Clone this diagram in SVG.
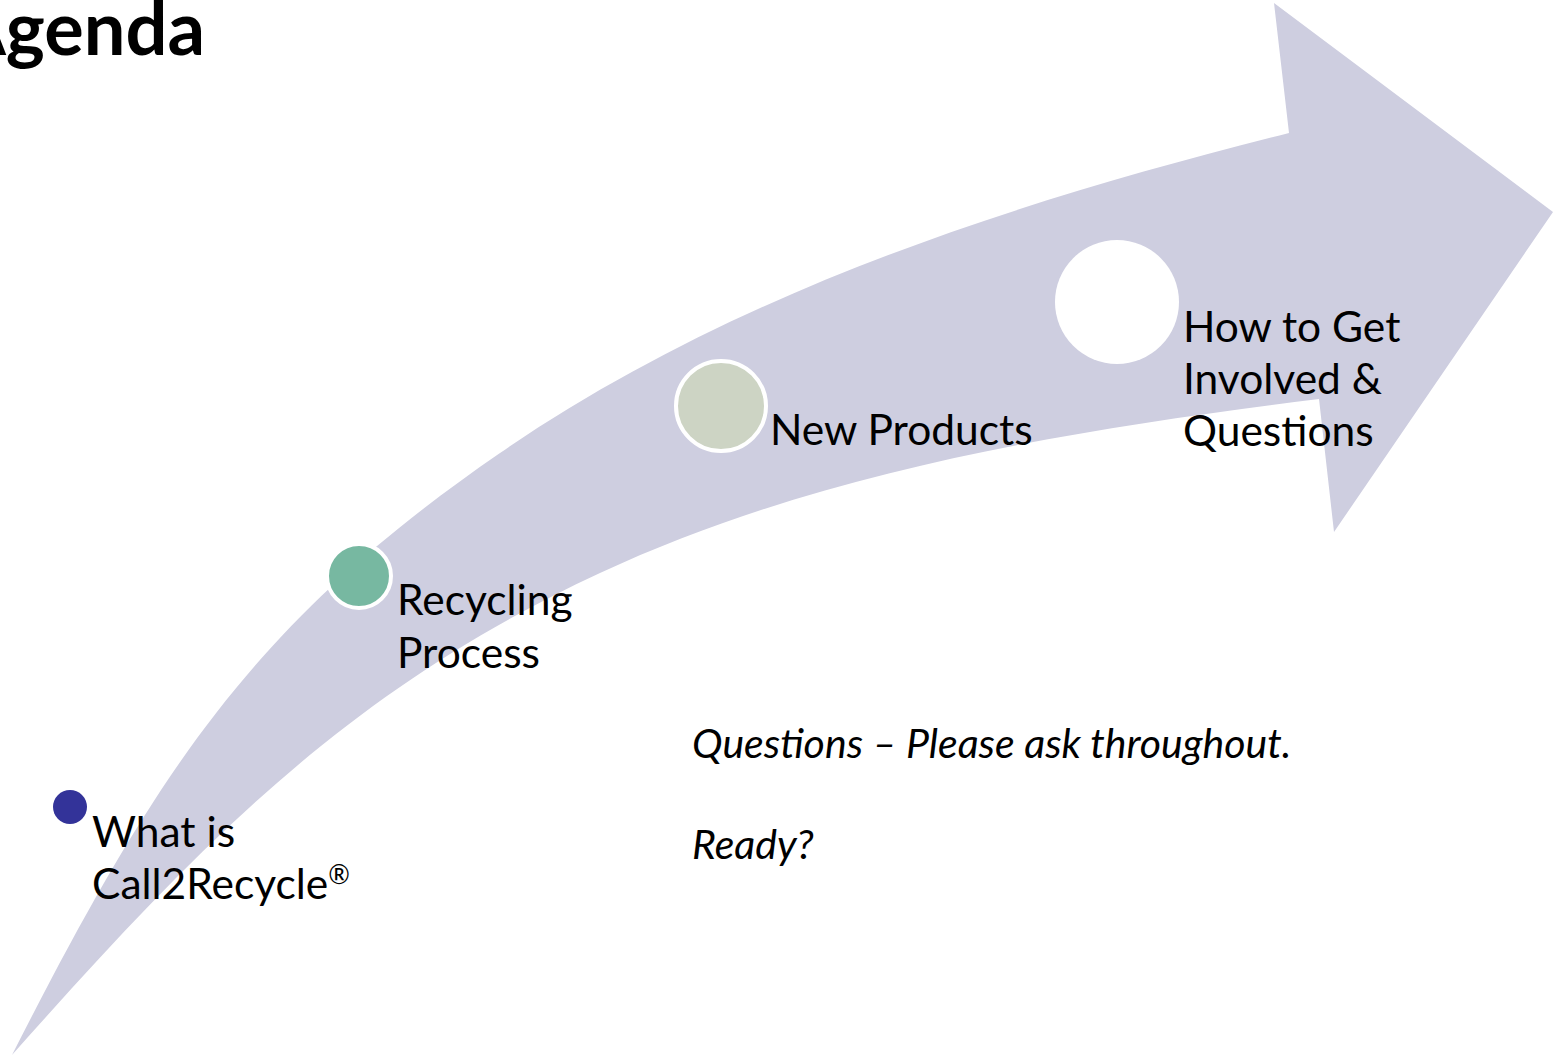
<svg xmlns="http://www.w3.org/2000/svg" width="1562" height="1058" viewBox="0 0 1562 1058">
<style>
.lbl{font-family:Lato,"Open Sans","Liberation Sans",sans-serif;font-size:42.5px;fill:#000}
.note{font-family:Lato,"Open Sans","Liberation Sans",sans-serif;font-size:41px;font-style:italic;fill:#000}
.title{font-family:Lato,"Open Sans","Liberation Sans",sans-serif;font-size:74px;font-weight:bold;fill:#000}
.ring{stroke:#fff;stroke-width:4}
</style>
<rect width="1562" height="1058" fill="#fff"/>
<g id="arrow">
<path fill="#CECEE0" d="M12,1055 C157,770 253,623 500,453 C734,292 1014,202 1289,133 L1274,3 L1553,212 L1334,532 L1319,399 C1074,430 824,469 600,573 C346,691 198,846 12,1055 Z"/>
</g>
<g id="title"><text class="title" x="205" y="55" text-anchor="end">Agenda</text></g>
<g id="node-what">
<circle cx="70" cy="807" r="17" fill="#333399"/>
<text class="lbl" x="92" y="847">What is</text>
<text class="lbl" x="92" y="899">Call2Recycle<tspan font-size="26" dy="-15">®</tspan></text>
</g>
<g id="node-recycling">
<circle class="ring" cx="359" cy="576" r="32" fill="#77B8A1"/>
<text class="lbl" x="397" y="615">Recycling</text>
<text class="lbl" x="397" y="668">Process</text>
</g>
<g id="node-new">
<circle class="ring" cx="721" cy="406" r="45" fill="#CDD4C4"/>
<text class="lbl" x="770" y="445">New Products</text>
</g>
<g id="node-how">
<circle cx="1117" cy="302" r="62" fill="#fff"/>
<text class="lbl" x="1183" y="342">How to Get</text>
<text class="lbl" x="1183" y="394">Involved &amp;</text>
<text class="lbl" x="1183" y="446">Questions</text>
</g>
<g id="notes">
<text class="note" x="692" y="758">Questions – Please ask throughout.</text>
<text class="note" x="692" y="859">Ready?</text>
</g>
</svg>
